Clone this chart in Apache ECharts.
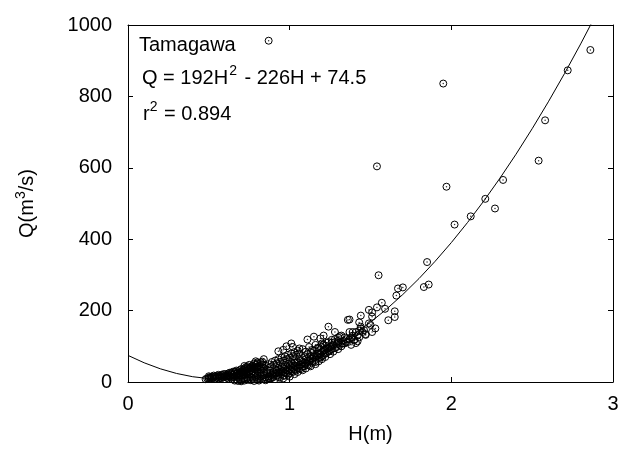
<!DOCTYPE html>
<html>
<head>
<meta charset="utf-8">
<script src="https://cdn.jsdelivr.net/npm/echarts@6/dist/echarts.min.js"></script>
<style>html,body{margin:0;padding:0;background:#fff;}#c{width:632px;height:449px;}</style>
</head>
<body>
<div id="c"></div>
<script>
// Observed stage (H, m) and discharge (Q, m3/s) pairs
var obsH = [
 0.49,0.50,0.50,0.51,0.52,0.52,0.53,0.54,0.54,0.55,0.55,0.56,0.57,0.57,0.58,0.58,0.59,0.60,0.60,0.61,
 0.61,0.62,0.62,0.63,0.63,0.64,0.64,0.65,0.65,0.66,0.66,0.67,0.67,0.68,0.68,0.69,0.69,0.70,0.70,0.71,
 0.71,0.72,0.72,0.73,0.73,0.74,0.74,0.75,0.75,0.76,0.76,0.77,0.78,0.78,0.79,0.80,0.80,0.82,0.83,0.78,
 0.66,0.67,0.68,0.69,0.70,0.71,0.72,0.73,0.74,0.75,0.76,0.77,0.78,0.79,0.80,0.81,0.82,0.83,0.84,0.85,
 0.86,0.86,0.87,0.88,0.88,0.89,0.90,0.90,0.91,0.92,0.92,0.93,0.94,0.94,0.95,0.95,0.96,0.96,0.97,0.98,
 0.98,0.99,1.00,1.00,1.00,1.01,1.02,1.02,1.03,1.03,1.04,1.05,1.05,1.06,1.07,1.07,1.08,1.08,1.09,1.10,
 1.10,1.11,1.12,1.12,1.13,1.14,1.14,1.15,1.16,1.16,1.17,1.18,1.18,1.19,1.20,1.20,1.21,1.22,1.22,1.23,
 1.24,1.25,1.25,1.26,1.27,1.28,1.29,1.30,1.30,1.32,1.33,1.34,1.35,1.36,1.38,1.40,1.42,1.45,
 0.80,0.82,0.84,0.85,0.86,0.87,0.88,0.89,0.90,0.91,0.92,0.93,0.94,0.95,0.96,0.97,0.98,0.99,1.00,1.01,
 1.02,1.03,1.04,1.05,1.06,1.08,1.10,1.12,1.14,1.16,1.18,1.20,1.22,1.24,1.26,1.28,1.30,1.32,
 0.84,0.93,1.01,1.06,1.11,1.15,1.24,1.36,0.72,0.75,0.96,0.98,1.02,1.19,1.21,1.28,0.74,0.80,0.79,0.83,
 1.37,1.38,1.39,1.40,1.41,1.42,1.43,1.43,1.44,1.44,1.47,1.47,1.49,1.49,1.50,1.51,1.51,1.51,1.53,1.54,
 1.55,1.57,1.59,1.61,1.65,1.65,1.66,1.67,1.70,1.83,1.85,1.86,1.54,1.97,2.02,2.12,2.21,2.27,2.32,
 2.54,2.58,2.72,2.86,1.95,0.87,
 0.48,0.50,0.51,0.53,0.56,0.56,0.58,0.59,0.60,0.62,0.62,0.63,0.64,0.65,0.66,0.67,0.68,0.69,0.70,0.70,
 0.71,0.72,0.72,0.73,0.74,0.75,0.76,0.77,0.77,0.78,0.79,0.80,0.81,0.81,0.82,0.83,0.84,
 0.70,0.72,0.74,0.76,0.78,0.80,0.81,0.82,0.84,0.84,0.85,0.86,0.87,0.88,0.89,0.90,0.91,0.91,0.92,0.93,
 0.93,0.94,0.95,0.96,0.96,0.97,0.97,0.98,0.99,0.99,1.00,1.01,1.01,1.02,1.03,1.03,1.04,1.04,1.05,1.06,
 1.06,1.07,1.08,1.09,1.09,1.10,1.11,1.11,1.12,1.13,1.13,1.14,1.15,1.15,1.16,1.17,1.17,1.18,1.19,1.19,
 1.20,1.21,1.21,1.22,1.23,1.23,1.24,1.25,1.26,1.26,1.27,1.28,1.29,1.30,1.31,1.31,1.33,1.34,1.35,1.37,
 1.37,1.39,1.41,1.43,1.44,1.46
];
var obsQ = [
 10,12,9,14,11,15,13,10,16,12,18,14,11,17,15,20,13,18,22,16,
 12,20,24,15,18,22,26,14,20,24,28,17,22,26,30,20,33,25,29,22,
 34,27,38,31,24,35,40,29,37,42,33,39,44,36,48,41,52,55,50,52,
 4,6,3,7,5,8,4,9,6,10,5,12,8,14,6,11,16,9,19,13,
 7,22,16,25,10,20,28,14,24,32,18,27,35,12,22,30,38,17,26,42,
 33,20,36,46,25,30,40,50,22,35,44,55,28,38,48,60,33,43,53,64,
 38,48,58,70,44,54,66,75,50,62,72,80,58,68,85,64,76,90,70,82,
 95,78,88,100,85,95,105,92,110,100,115,108,120,112,125,118,130,140,
 30,35,40,46,34,50,42,56,48,60,52,64,56,68,60,72,64,76,68,80,
 72,84,76,88,80,92,85,98,90,104,96,108,102,112,118,112,125,130,
 64,86,108,94,119,127,155,174,45,48,90,100,98,122,130,140,44,55,58,57,
 175,104,140,118,109,114,144,167,186,155,132,134,164,202,160,195,183,140,150,209,
 299,222,205,173,198,182,242,262,265,266,336,273,604,547,441,464,513,486,566,
 620,733,873,930,836,956,
 8,16,10,18,10,20,11,22,14,10,16,26,12,29,16,32,12,24,36,18,
 28,20,32,42,26,22,38,30,46,28,40,35,45,28,42,38,48,
 2,10,12,14,3,18,4,22,8,26,5,28,10,32,12,20,36,8,25,14,
 40,29,44,10,32,18,48,24,38,52,15,42,56,28,46,62,32,54,40,48,
 66,36,56,44,72,52,60,78,46,66,84,58,70,88,56,80,94,68,78,100,
 72,88,104,80,94,110,86,98,92,110,104,120,98,115,104,128,108,125,112,120,
 140,130,140,125,150,145
];
// Fitted rating curve Q = 192H^2 - 226H + 74.5, tabulated
var fitH = [0,0.1,0.2,0.3,0.4,0.5,0.6,0.7,0.8,0.9,1.0,1.1,1.2,1.3,1.4,1.5,1.6,1.7,1.8,1.9,2.0,2.1,2.2,2.3,2.4,2.5,2.6,2.7,2.8,2.9];
var fitQ = [74.5,53.82,36.98,23.98,14.82,9.5,8.02,10.38,16.58,26.62,40.5,58.22,79.78,105.18,134.42,167.5,204.42,245.18,289.78,338.22,390.5,446.62,506.58,570.38,638.02,709.5,784.82,863.98,946.98,1033.82];
var xTicks = [0,1,2,3];
var yTicks = [0,200,400,600,800,1000];

var pts = obsH.map(function(h,i){return [h, obsQ[i]];});
var fit = fitH.map(function(h,i){return [h, fitQ[i]];});

var FONT = '"Liberation Sans", Arial, sans-serif';
var chart = echarts.init(document.getElementById('c'), null, {renderer:'canvas'});
var axisCommon = {
  axisLine:{show:true, onZero:false, lineStyle:{color:'#000', width:1}},
  axisTick:{show:true, inside:true, length:5, lineStyle:{color:'#000'}},
  splitLine:{show:false}
};
chart.setOption({
  animation:false,
  backgroundColor:'#fff',
  grid:{left:128, right:19, top:25, bottom:63},
  xAxis:[
    Object.assign({type:'value', min:xTicks[0], max:xTicks[xTicks.length-1], interval:1, position:'bottom',
      name:'H(m)', nameLocation:'middle', nameGap:42,
      nameTextStyle:{fontFamily:FONT, fontSize:20, color:'#000'},
      axisLabel:{fontFamily:FONT, fontSize:20, color:'#000', margin:12, formatter:function(v){return String(v);}}}, axisCommon),
    Object.assign({type:'value', min:xTicks[0], max:xTicks[xTicks.length-1], interval:1, position:'top',
      axisLabel:{show:false}}, axisCommon)
  ],
  yAxis:[
    Object.assign({type:'value', min:yTicks[0], max:yTicks[yTicks.length-1], interval:200, position:'left',
      name:'{n|Q(m}{s|3}{n|/s)}', nameLocation:'middle', nameGap:88, nameRotate:90,
      nameTextStyle:{fontFamily:FONT, fontSize:20, color:'#000',
        rich:{n:{fontFamily:FONT, fontSize:20, color:'#000'}, s:{fontFamily:FONT, fontSize:14, color:'#000', padding:[0,0,12,0]}}},
      axisLabel:{fontFamily:FONT, fontSize:20, color:'#000', margin:16, formatter:function(v){return String(v);}}}, axisCommon),
    Object.assign({type:'value', min:yTicks[0], max:yTicks[yTicks.length-1], interval:200, position:'right',
      axisLabel:{show:false}}, axisCommon)
  ],
  graphic:[
    {type:'text', left:139, top:35, style:{text:'Tamagawa', fontFamily:FONT, fontSize:20, fill:'#000'}},
    {type:'text', left:142, top:64, style:{
      text:'{n|Q = 192H}{s|2}{n| - 226H + 74.5}',
      rich:{n:{fontFamily:FONT, fontSize:20, color:'#000'}, s:{fontFamily:FONT, fontSize:14, color:'#000', padding:[0,2,14,1]}}}},
    {type:'text', left:143, top:100, style:{
      text:'{n|r}{s|2}{n| = 0.894}',
      rich:{n:{fontFamily:FONT, fontSize:20, color:'#000'}, s:{fontFamily:FONT, fontSize:14, color:'#000', padding:[0,1,14,0]}}}}
  ],
  series:[
    {type:'line', data:fit, showSymbol:false, symbol:'none', clip:true,
     lineStyle:{color:'#000', width:1}, z:3},
    {type:'scatter', data:pts, symbol:'circle', symbolSize:7,
     itemStyle:{color:'rgba(0,0,0,0)', borderColor:'#000', borderWidth:1, opacity:1}, z:2},
    {type:'scatter', data:pts, symbol:'circle', symbolSize:1.5,
     itemStyle:{color:'#000'}, z:2}
  ]
});
</script>
</body>
</html>
